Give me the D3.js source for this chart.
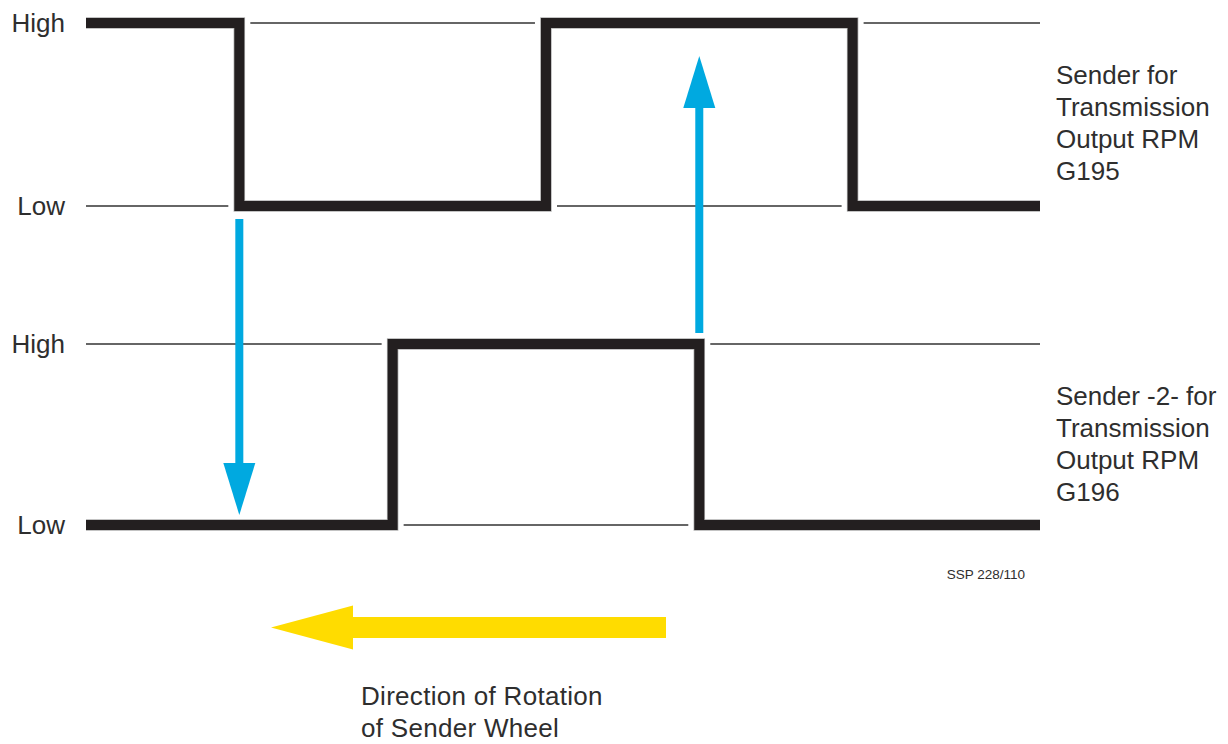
<!DOCTYPE html>
<html>
<head>
<meta charset="utf-8">
<script src="https://cdn.jsdelivr.net/npm/d3@7"></script>
<style>
  html, body { margin: 0; padding: 0; background: #fff; }
  svg text { font-family: "Liberation Sans", Arial, sans-serif; fill: #2e2e2e; }
</style>
</head>
<body>
<svg id="chart" width="1228" height="744"></svg>
<script>
// rotation angle of the sender wheel (degrees) on the x axis
const timeDomain = [0, 560]

// G195: switching angles and the level that starts at each of them
const g195Steps = [0, 90, 270, 450]
const g195Levels = [1, 0, 1, 0]

// G196 (sender -2-)
const g196Steps = [0, 180, 360]
const g196Levels = [0, 1, 0]

const levelLabels = ["Low", "High"]

const g195Name = ["Sender for", "Transmission", "Output RPM", "G195"]
const g196Name = ["Sender -2- for", "Transmission", "Output RPM", "G196"]

// blue arrows: where they sit (degrees) and which way they point
const arrowAngles = [90, 360]
const arrowDirs = ["down", "up"]

const directionText = ["Direction of Rotation", "of Sender Wheel"]
const refText = "SSP 228/110"

const svg = d3.select("#chart")

const x = d3.scaleLinear().domain(timeDomain).range([86, 1040])
const yTop = d3.scaleLinear().domain([0, 1]).range([206, 23])
const yBot = d3.scaleLinear().domain([0, 1]).range([525, 344])

let channels = [
    { steps: g195Steps, levels: g195Levels, y: yTop, name: g195Name },
    { steps: g196Steps, levels: g196Levels, y: yBot, name: g196Name }
]

const gap = 11

function drawChannel(ch) {
    const g = svg.append("g")

    // thin reference lines on the level the signal is not on
    ch.steps.forEach((s, i) => {
        const e = i < ch.steps.length - 1 ? ch.steps[i + 1] : timeDomain[1]
        const other = 1 - ch.levels[i]
        const x1 = x(s) + (i > 0 ? gap : 0)
        const x2 = x(e) - (e < timeDomain[1] ? gap : 0)
        g.append("line")
            .attr("x1", x1).attr("x2", x2)
            .attr("y1", ch.y(other)).attr("y2", ch.y(other))
            .attr("stroke", "#333")
            .attr("stroke-width", 1.5)
    })

    // square wave
    const pts = ch.steps.map((s, i) => [s, ch.levels[i]])
    pts.push([timeDomain[1], ch.levels[ch.levels.length - 1]])
    const line = d3.line()
        .x(d => x(d[0]))
        .y(d => ch.y(d[1]))
        .curve(d3.curveStepAfter)

    g.append("path")
        .attr("d", line(pts))
        .attr("fill", "none")
        .attr("stroke", "#b0b0b0")
        .attr("stroke-width", 11.5)
        .attr("stroke-linejoin", "miter")
    g.append("path")
        .attr("d", line(pts))
        .attr("fill", "none")
        .attr("stroke", "#231f20")
        .attr("stroke-width", 10)
        .attr("stroke-linejoin", "miter")

    // High / Low labels
    levelLabels.forEach((lab, i) => {
        g.append("text")
            .attr("x", 65)
            .attr("y", ch.y(i))
            .attr("dy", "0.35em")
            .attr("text-anchor", "end")
            .attr("font-size", 26)
            .text(lab)
    })

    // sender name on the right
    const t = g.append("text")
        .attr("x", 1056)
        .attr("y", ch.y(1) + 61)
        .attr("font-size", 26)
    ch.name.forEach((n, i) => {
        t.append("tspan").attr("x", 1056).attr("dy", i == 0 ? 0 : 32).text(n)
    })
}

channels.forEach(drawChannel)

// blue arrows between the two signals
const blue = "#00a9e0"
arrowAngles.forEach((a, i) => {
    const cx = x(a)
    let tail, tip
    if (arrowDirs[i] === "down") {
        tail = yTop(0) + 13
        tip = yBot(0) - 10
    } else {
        tail = yBot(1) - 11
        tip = yTop(1) + 33
    }
    const sign = tip > tail ? 1 : -1
    const headLen = 52
    const base = tip - sign * headLen
    svg.append("rect")
        .attr("x", cx - 4)
        .attr("y", Math.min(tail, base))
        .attr("width", 8)
        .attr("height", Math.abs(base - tail))
        .attr("fill", blue)
    const p = d3.path()
    p.moveTo(cx, tip)
    p.lineTo(cx - 16, base)
    p.lineTo(cx + 16, base)
    p.closePath()
    svg.append("path").attr("d", p).attr("fill", blue)
})

// yellow rotation arrow
const yellow = "#ffdc00"
const ay = 627.5
svg.append("rect")
    .attr("x", 352).attr("y", ay - 10.5)
    .attr("width", 666 - 352).attr("height", 21)
    .attr("fill", yellow)
const yp = d3.path()
yp.moveTo(271, ay)
yp.lineTo(353, ay - 22)
yp.lineTo(353, ay + 22)
yp.closePath()
svg.append("path").attr("d", yp).attr("fill", yellow)

const dt = svg.append("text")
    .attr("x", 361)
    .attr("y", 705)
    .attr("font-size", 26)
    .attr("letter-spacing", 0.3)
directionText.forEach((s, i) => {
    dt.append("tspan").attr("x", 361).attr("dy", i == 0 ? 0 : 32).text(s)
})

svg.append("text")
    .attr("x", 1025)
    .attr("y", 579)
    .attr("text-anchor", "end")
    .attr("font-size", 13.5)
    .attr("fill", "#444")
    .text(refText)
</script>
</body>
</html>
